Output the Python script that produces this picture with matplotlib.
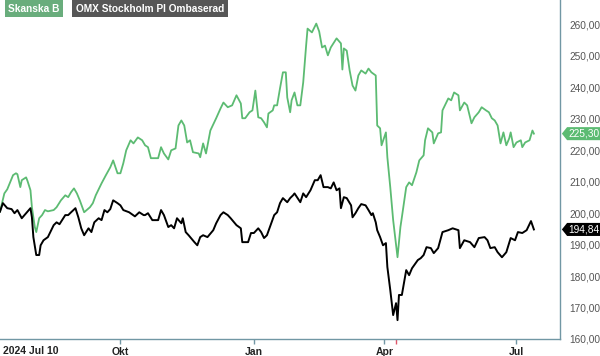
import pandas as pd
import matplotlib.pyplot as plt
import matplotlib.dates as mdates
from matplotlib.path import Path
from matplotlib.ticker import FuncFormatter

plt.rcParams['font.family'] = ['Liberation Sans', 'DejaVu Sans']

# Skanska B (SEK)
skanska_dates = [
    '2024-07-10', '2024-07-13', '2024-07-15', '2024-07-19', '2024-07-21', '2024-07-22', '2024-07-24', '2024-07-25',
    '2024-07-28', '2024-07-29', '2024-07-31', '2024-08-01', '2024-08-03', '2024-08-04', '2024-08-06', '2024-08-08',
    '2024-08-10', '2024-08-12', '2024-08-16', '2024-08-18', '2024-08-21', '2024-08-24', '2024-08-26', '2024-08-28',
    '2024-08-30', '2024-09-01', '2024-09-03', '2024-09-06', '2024-09-10', '2024-09-12', '2024-09-14', '2024-09-18',
    '2024-09-21', '2024-09-24', '2024-09-26', '2024-09-29', '2024-10-01', '2024-10-03', '2024-10-05', '2024-10-08',
    '2024-10-10', '2024-10-13', '2024-10-16', '2024-10-18', '2024-10-20', '2024-10-22', '2024-10-25', '2024-10-27',
    '2024-10-29', '2024-10-31', '2024-11-03', '2024-11-05', '2024-11-08', '2024-11-10', '2024-11-12', '2024-11-14',
    '2024-11-16', '2024-11-18', '2024-11-20', '2024-11-24', '2024-11-25', '2024-11-27', '2024-11-29', '2024-12-02',
    '2024-12-06', '2024-12-09', '2024-12-11', '2024-12-14', '2024-12-17', '2024-12-20', '2024-12-23', '2024-12-24',
    '2024-12-26', '2024-12-29', '2024-12-31', '2025-01-02', '2025-01-04', '2025-01-06', '2025-01-08', '2025-01-10',
    '2025-01-11', '2025-01-14', '2025-01-15', '2025-01-17', '2025-01-19', '2025-01-21', '2025-01-23', '2025-01-24',
    '2025-01-26', '2025-01-27', '2025-01-29', '2025-01-31', '2025-02-02', '2025-02-04', '2025-02-06', '2025-02-07',
    '2025-02-10', '2025-02-12', '2025-02-13', '2025-02-15', '2025-02-17', '2025-02-19', '2025-02-21', '2025-02-23',
    '2025-02-27', '2025-03-02', '2025-03-03', '2025-03-04', '2025-03-06', '2025-03-08', '2025-03-10', '2025-03-12',
    '2025-03-14', '2025-03-16', '2025-03-19', '2025-03-21', '2025-03-23', '2025-03-26', '2025-03-27', '2025-03-29',
    '2025-03-30', '2025-04-02', '2025-04-03', '2025-04-05', '2025-04-07', '2025-04-10', '2025-04-12', '2025-04-13',
    '2025-04-16', '2025-04-18', '2025-04-20', '2025-04-23', '2025-04-25', '2025-04-28', '2025-04-29', '2025-05-01',
    '2025-05-04', '2025-05-05', '2025-05-08', '2025-05-10', '2025-05-11', '2025-05-15', '2025-05-17', '2025-05-19',
    '2025-05-22', '2025-05-23', '2025-05-26', '2025-05-28', '2025-05-31', '2025-06-02', '2025-06-05', '2025-06-07',
    '2025-06-10', '2025-06-12', '2025-06-14', '2025-06-16', '2025-06-18', '2025-06-20', '2025-06-22', '2025-06-24',
    '2025-06-26', '2025-06-27', '2025-06-29', '2025-07-01', '2025-07-04', '2025-07-05', '2025-07-07', '2025-07-10',
    '2025-07-12', '2025-07-13',
]
skanska_values = [
    200.5, 206.3, 207.6, 212.1, 212.7, 212.4, 208.3, 210.5,
    211.4, 210.2, 207.3, 201.9, 195.6, 194.0, 198.4, 199.4,
    201.0, 200.6, 201.0, 201.9, 204.1, 205.7, 205.1, 206.7,
    207.9, 206.3, 204.1, 200.3, 201.9, 203.2, 205.7, 209.5,
    212.1, 214.6, 216.8, 212.7, 212.7, 215.9, 220.0, 223.2,
    222.2, 224.1, 223.2, 221.6, 221.0, 217.5, 217.5, 217.5,
    221.0, 219.0, 217.1, 220.0, 220.6, 227.9, 229.5, 227.9,
    222.5, 223.2, 219.4, 219.0, 217.8, 222.2, 219.0, 226.3,
    230.2, 233.3, 235.2, 233.7, 234.3, 237.5, 234.9, 230.2,
    230.2, 232.1, 232.7, 239.0, 230.5, 230.2, 228.9, 227.3,
    231.7, 232.7, 234.3, 234.3, 239.7, 244.8, 244.8, 236.8,
    232.1, 235.9, 238.4, 234.3, 234.3, 241.6, 253.3, 258.7,
    257.5, 259.4, 260.3, 257.8, 252.7, 253.3, 250.2, 252.7,
    255.6, 254.0, 245.7, 252.4, 251.7, 245.4, 240.6, 239.0,
    243.8, 245.4, 244.4, 246.0, 244.8, 243.8, 227.9, 227.0,
    221.6, 225.7, 217.8, 208.3, 197.8, 186.0, 195.6, 198.7,
    208.3, 209.8, 208.9, 213.0, 216.8, 218.4, 223.2, 227.0,
    225.7, 222.2, 225.4, 225.7, 232.7, 236.5, 235.9, 238.4,
    237.5, 232.7, 235.2, 234.3, 228.6, 230.5, 232.1, 233.7,
    232.7, 232.1, 230.2, 229.5, 227.9, 222.2, 225.7, 221.6,
    223.8, 225.7, 221.0, 222.5, 223.2, 221.0, 222.5, 223.2,
    226.3, 225.30,
]

# OMX Stockholm PI, rebased to Skanska B
omx_dates = [
    '2024-07-10', '2024-07-12', '2024-07-15', '2024-07-18', '2024-07-20', '2024-07-22', '2024-07-25', '2024-07-28',
    '2024-07-31', '2024-08-01', '2024-08-02', '2024-08-04', '2024-08-06', '2024-08-07', '2024-08-09', '2024-08-12',
    '2024-08-16', '2024-08-18', '2024-08-20', '2024-08-24', '2024-08-26', '2024-08-28', '2024-08-31', '2024-09-02',
    '2024-09-04', '2024-09-06', '2024-09-09', '2024-09-11', '2024-09-13', '2024-09-16', '2024-09-18', '2024-09-20',
    '2024-09-22', '2024-09-24', '2024-09-26', '2024-09-29', '2024-10-01', '2024-10-03', '2024-10-07', '2024-10-11',
    '2024-10-14', '2024-10-17', '2024-10-18', '2024-10-20', '2024-10-23', '2024-10-27', '2024-10-29', '2024-10-31',
    '2024-11-03', '2024-11-05', '2024-11-07', '2024-11-09', '2024-11-12', '2024-11-13', '2024-11-15', '2024-11-17',
    '2024-11-21', '2024-11-23', '2024-11-25', '2024-11-27', '2024-11-30', '2024-12-04', '2024-12-06', '2024-12-09',
    '2024-12-11', '2024-12-14', '2024-12-16', '2024-12-20', '2024-12-23', '2024-12-24', '2024-12-28', '2024-12-30',
    '2025-01-01', '2025-01-04', '2025-01-06', '2025-01-08', '2025-01-10', '2025-01-13', '2025-01-15', '2025-01-17',
    '2025-01-19', '2025-01-21', '2025-01-24', '2025-01-26', '2025-01-28', '2025-01-29', '2025-02-02', '2025-02-04',
    '2025-02-06', '2025-02-09', '2025-02-12', '2025-02-14', '2025-02-16', '2025-02-18', '2025-02-21', '2025-02-23',
    '2025-02-25', '2025-02-27', '2025-03-01', '2025-03-02', '2025-03-04', '2025-03-06', '2025-03-09', '2025-03-10',
    '2025-03-12', '2025-03-14', '2025-03-16', '2025-03-19', '2025-03-21', '2025-03-23', '2025-03-24', '2025-03-26',
    '2025-03-27', '2025-03-29', '2025-03-31', '2025-04-02', '2025-04-03', '2025-04-05', '2025-04-07', '2025-04-09',
    '2025-04-10', '2025-04-11', '2025-04-13', '2025-04-16', '2025-04-18', '2025-04-20', '2025-04-24', '2025-04-26',
    '2025-04-28', '2025-04-30', '2025-05-03', '2025-05-05', '2025-05-08', '2025-05-11', '2025-05-15', '2025-05-18',
    '2025-05-22', '2025-05-23', '2025-05-26', '2025-05-30', '2025-06-02', '2025-06-05', '2025-06-09', '2025-06-11',
    '2025-06-13', '2025-06-16', '2025-06-18', '2025-06-21', '2025-06-24', '2025-06-27', '2025-06-30', '2025-07-02',
    '2025-07-05', '2025-07-08', '2025-07-11', '2025-07-13',
]
omx_values = [
    200.5, 203.2, 201.6, 201.3, 200.0, 201.0, 198.4, 200.0,
    201.6, 198.7, 192.4, 186.7, 186.7, 189.8, 191.4, 192.4,
    196.2, 197.1, 196.5, 199.4, 199.4, 200.3, 201.6, 198.7,
    195.2, 193.0, 195.2, 194.0, 197.1, 198.4, 197.8, 201.0,
    200.3, 201.3, 204.1, 203.2, 202.5, 201.0, 200.3, 199.0,
    200.3, 199.4, 199.4, 200.0, 197.8, 197.8, 201.0, 199.4,
    195.6, 196.2, 195.2, 198.4, 196.8, 198.4, 194.0, 193.0,
    190.8, 189.8, 192.4, 193.0, 192.4, 194.6, 196.8, 199.4,
    200.3, 199.4, 198.4, 196.2, 195.2, 190.8, 190.8, 193.7,
    193.7, 195.2, 194.0, 192.1, 193.0, 196.8, 199.4, 200.3,
    203.2, 204.8, 203.5, 204.8, 205.7, 206.3, 203.5, 206.3,
    205.1, 207.3, 210.5, 210.5, 212.1, 208.3, 208.3, 207.9,
    209.8, 207.3, 207.9, 201.6, 205.1, 204.8, 202.5, 198.7,
    200.0, 201.6, 202.9, 202.5, 201.0, 199.4, 200.0, 197.1,
    194.6, 192.4, 189.8, 190.5, 182.9, 175.6, 167.6, 171.4,
    166.0, 174.0, 174.0, 181.9, 180.3, 182.5, 185.1, 185.7,
    186.7, 189.2, 188.9, 187.3, 188.9, 194.0, 194.6, 195.2,
    194.6, 188.9, 191.4, 190.8, 189.2, 192.1, 192.4, 191.4,
    188.9, 189.2, 187.6, 186.0, 187.6, 192.1, 191.4, 194.0,
    193.7, 194.6, 197.5, 194.84,
]

series_names = ['Skanska B', 'OMX Stockholm PI Ombaserad']
month_ticks = ['2024-10-01', '2025-01-01', '2025-04-01', '2025-07-01']
month_labels = ['Okt', 'Jan', 'Apr', 'Jul']
marker_date = '2025-04-09'
x_range = ['2024-07-10', '2025-07-31']
y_ticks = list(range(160, 270, 10))

green = '#5cbb72'
axis_col = '#7197a4'


def tag_box(x0, y0, width, height, mutation_size):
    # price tag with a pointed left side
    pad = 0.15 * mutation_size
    x0, y0 = x0 - pad, y0 - pad
    width, height = width + 2 * pad, height + 2 * pad
    tip = height * 0.4
    verts = [(x0 - tip, y0 + height / 2), (x0, y0), (x0 + width, y0),
             (x0 + width, y0 + height), (x0, y0 + height), (x0 - tip, y0 + height / 2)]
    codes = [Path.MOVETO] + [Path.LINETO] * 4 + [Path.CLOSEPOLY]
    return Path(verts, codes)


sk_x = pd.to_datetime(skanska_dates)
omx_x = pd.to_datetime(omx_dates)

fig = plt.figure(figsize=(6, 3.56), dpi=100)
ax = fig.add_axes([0.0, 1 - 339 / 356, 560 / 600, 339 / 356])

ax.plot(sk_x, skanska_values, color=green, lw=1.3, solid_joinstyle='round')
ax.plot(omx_x, omx_values, color='black', lw=1.4, solid_joinstyle='round')

ax.set_xlim(pd.to_datetime(x_range[0]), pd.to_datetime(x_range[1]))
ax.set_ylim(160, 267.8)

for s in ['top', 'left']:
    ax.spines[s].set_visible(False)
for s in ['bottom', 'right']:
    ax.spines[s].set_color(axis_col)
    ax.spines[s].set_linewidth(1.0)

ax.yaxis.tick_right()
ax.set_yticks(y_ticks)
ax.yaxis.set_major_formatter(FuncFormatter(lambda v, p: f'{v:.2f}'.replace('.', ',')))
ax.tick_params(axis='y', length=0, pad=6.5, labelsize=7.3, labelcolor='#555555')

ax.set_xticks(pd.to_datetime(month_ticks))
ax.set_xticklabels(month_labels)
ax.tick_params(axis='x', length=3.5, width=1, color=axis_col, pad=2,
               labelsize=7.5, labelcolor='#222222')
for lab in ax.get_xticklabels():
    lab.set_fontweight('bold')
ax.set_xticks([mdates.date2num(pd.to_datetime(marker_date))], minor=True)
ax.tick_params(axis='x', which='minor', length=3.5, width=1, color='#e0566a')

ax.annotate('2024 Jul 10', xy=(0, 0), xycoords='axes fraction', xytext=(2, -5.3),
            textcoords='offset points', ha='left', va='top', fontsize=7.5,
            fontweight='bold', color='#222222')

# last value tags on the right axis
for vals, col in [(skanska_values, green), (omx_values, 'black')]:
    ax.annotate(f'{vals[-1]:.2f}'.replace('.', ','), xy=(1, vals[-1]),
                xycoords=('axes fraction', 'data'), xytext=(6.2, 0),
                textcoords='offset points', ha='left', va='center',
                fontsize=7.3, color='white', annotation_clip=False,
                bbox=dict(boxstyle=tag_box, fc=col, ec='none'))

# legend tags top left
fig.text(8.5 / 600, 1 - 8.5 / 356, series_names[0], ha='left', va='center', fontsize=7.3,
         fontweight='bold', color='white',
         bbox=dict(boxstyle='square,pad=0.35', fc='#69ad7c', ec='none'))
fig.text(76 / 600, 1 - 8.5 / 356, series_names[1], ha='left', va='center', fontsize=7.3,
         fontweight='bold', color='white',
         bbox=dict(boxstyle='square,pad=0.35', fc='#565656', ec='none'))

fig.savefig('out.png', dpi=100)
